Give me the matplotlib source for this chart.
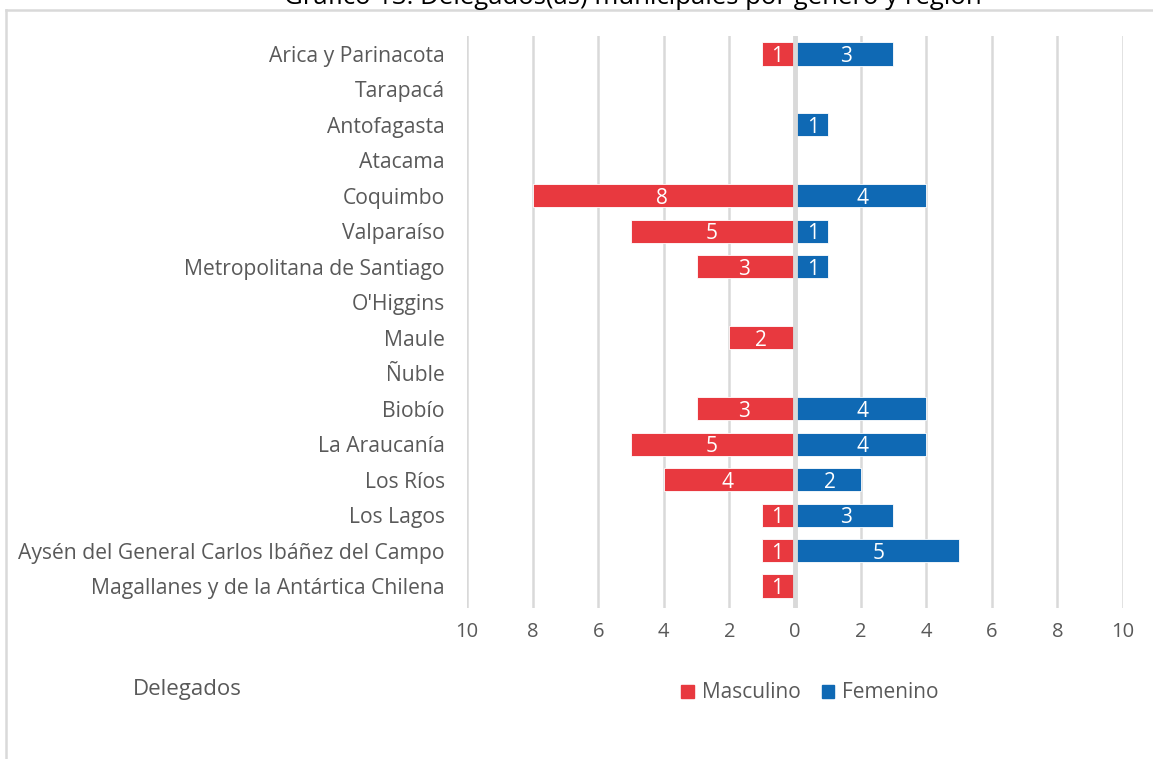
import matplotlib
matplotlib.use("Agg")
import matplotlib.pyplot as plt
from matplotlib.patches import Rectangle
from matplotlib.lines import Line2D

plt.rcParams['font.family'] = ['Open Sans', 'DejaVu Sans']

regions = ["Arica y Parinacota", "Tarapacá", "Antofagasta", "Atacama", "Coquimbo",
           "Valparaíso", "Metropolitana de Santiago", "O'Higgins", "Maule", "Ñuble",
           "Biobío", "La Araucanía", "Los Ríos", "Los Lagos",
           "Aysén del General Carlos Ibáñez del Campo", "Magallanes y de la Antártica Chilena"]
masculino = [1, 0, 0, 0, 8, 5, 3, 0, 2, 0, 3, 5, 4, 1, 1, 1]
femenino = [3, 0, 1, 0, 4, 1, 1, 0, 0, 0, 4, 4, 2, 3, 5, 0]
xticks = [-10, -8, -6, -4, -2, 0, 2, 4, 6, 8, 10]
xticklabels = ["10", "8", "6", "4", "2", "0", "2", "4", "6", "8", "10"]

RED = "#E8393F"
BLUE = "#0F69B4"
GRID = "#D9D9D9"
TXT = "#595959"

W, H = 1153, 759
fig = plt.figure(figsize=(W / 100, H / 100), dpi=100)

# outer frame (partially visible)
fig.add_artist(Line2D([6 / W, 6 / W], [0, 1 - 10 / H], transform=fig.transFigure, color=GRID, lw=1.8))
fig.add_artist(Line2D([6 / W, 1], [1 - 10 / H, 1 - 10 / H], transform=fig.transFigure, color=GRID, lw=1.8))

# title (clipped at top edge, as in the reference)
fig.text(633 / W, 1 - 4.5 / H, "Gráfico 13: Delegados(as) municipales por género y región",
         ha='center', va='baseline', fontsize=18.5, color='black')

ax = fig.add_axes([467 / W, 1 - 608 / H, 656 / W, 572 / H])
y = list(range(len(regions)))
h = 0.65
ax.barh(y, [-m for m in masculino], height=h, color=RED, edgecolor='white', linewidth=0.6, zorder=2)
ax.barh(y, femenino, height=h, color=BLUE, edgecolor='white', linewidth=0.6, zorder=2)

for i, (m, f) in enumerate(zip(masculino, femenino)):
    if m:
        ax.text(-m / 2 - 0.05, i, str(m), ha='center', va='center_baseline', color='white', fontsize=15, zorder=4)
    if f:
        ax.text(f / 2 + 0.05, i, str(f), ha='center', va='center_baseline', color='white', fontsize=15, zorder=4)

ax.set_xlim(-10, 10)
ax.set_ylim(len(regions) - 1 + 0.62, -0.507)
ax.set_xticks(xticks)
ax.set_xticklabels(xticklabels)
ax.set_yticks(y)
ax.set_yticklabels(regions)
ax.tick_params(axis='x', length=0, pad=10, labelsize=14.5, labelcolor=TXT)
ax.tick_params(axis='y', length=0, pad=16, labelsize=15.2, labelcolor=TXT)
for t in xticks:
    if t != 0:
        ax.axvline(t, color=GRID, lw=1.8, zorder=1)
ax.axvline(0, color=GRID, lw=3.5, zorder=3)
for s in ax.spines.values():
    s.set_visible(False)

fig.text(133 / W, 1 - 690 / H, "Delegados", ha='left', va='center', fontsize=16, color=TXT)

handles = [Rectangle((0, 0), 1, 1, color=RED), Rectangle((0, 0), 1, 1, color=BLUE)]
fig.legend(handles, ["Masculino", "Femenino"], loc='center', bbox_to_anchor=(810 / W, 1 - 693 / H),
           ncol=2, frameon=False, fontsize=15, labelcolor=TXT, handlelength=0.6, handleheight=0.6,
           handletextpad=0.4, columnspacing=1.0)

fig.savefig("out.png", dpi=100)
